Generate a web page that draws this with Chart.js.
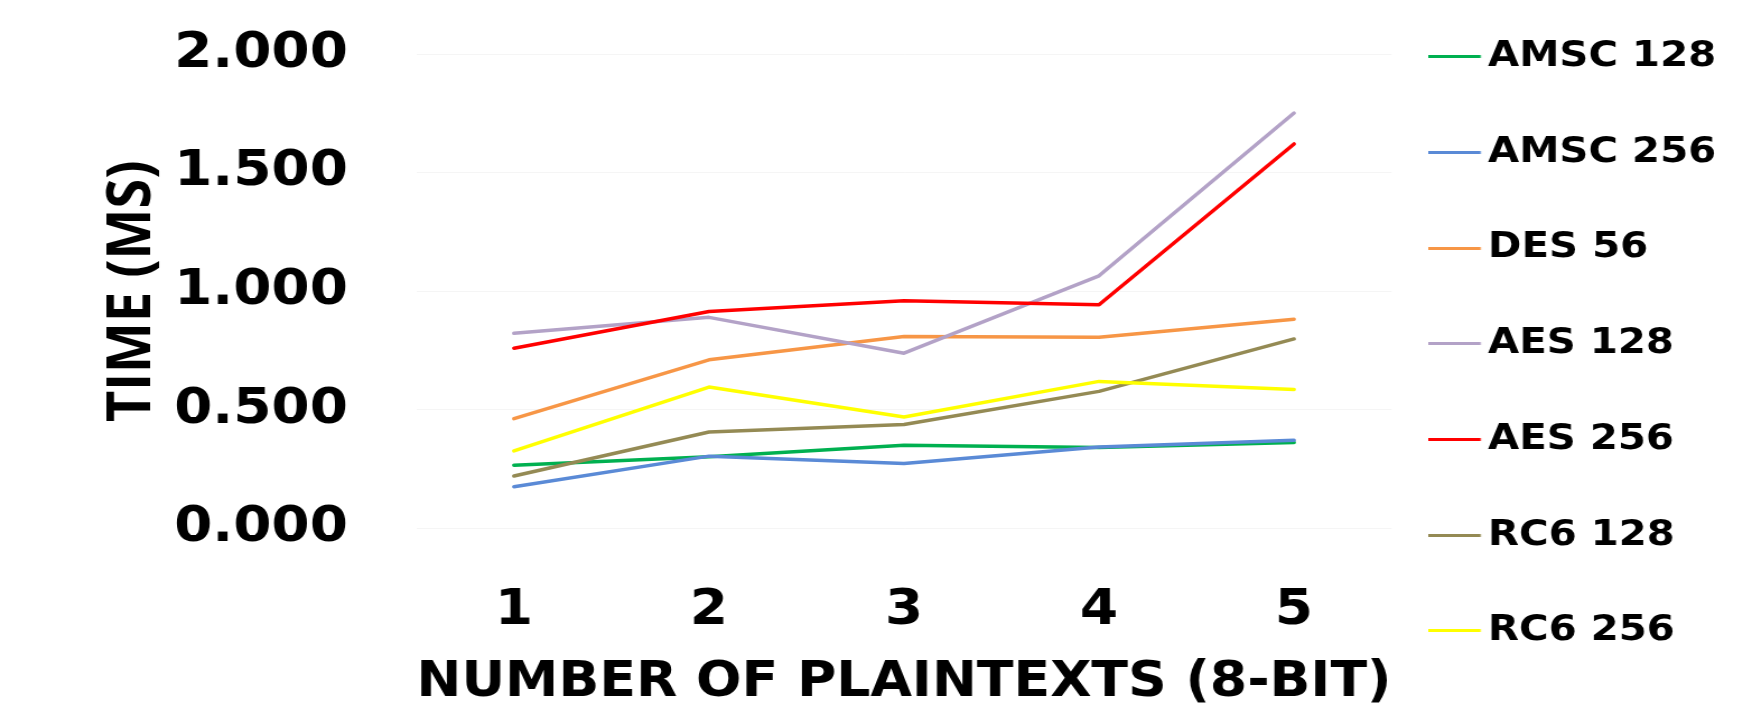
<!DOCTYPE html>
<html>
<head>
<meta charset="utf-8">
<script src="https://cdn.jsdelivr.net/npm/chart.js@4/dist/chart.umd.min.js"></script>
<style>
  html, body { margin: 0; padding: 0; background: #fff; overflow: hidden; }
  /* the drawing is rendered narrower and widened to the full page width */
  #stage { width: 1564px; height: 705px; transform: scaleX(1.1202); transform-origin: 0 0; }
  canvas { display: block; }
</style>
</head>
<body>
<div id="stage"><canvas id="chart" width="1564" height="705"></canvas></div>
<script>
// ---- data ----
const plaintextCounts = ['1', '2', '3', '4', '5'];
const timeTicks = [0, 0.5, 1, 1.5, 2];
const seriesNames = ['AMSC 128', 'AMSC 256', 'DES 56', 'AES 128', 'AES 256', 'RC6 128', 'RC6 256'];

const amsc128 = [0.267, 0.302, 0.351, 0.341, 0.362];
const amsc256 = [0.176, 0.305, 0.274, 0.344, 0.372];
const des56   = [0.463, 0.711, 0.809, 0.806, 0.882];
const aes128  = [0.823, 0.890, 0.739, 1.065, 1.751];
const aes256  = [0.760, 0.915, 0.960, 0.943, 1.621];
const rc6128  = [0.221, 0.407, 0.438, 0.578, 0.799];
const rc6256  = [0.327, 0.596, 0.470, 0.620, 0.586];

const seriesValues = [amsc128, amsc256, des56, aes128, aes256, rc6128, rc6256];

// ---- styling ----
const seriesColors = ['#00b050', '#5a8ad6', '#f79646', '#b3a2c7', '#ff0000', '#948a54', '#ffff00'];

const CANVAS_W = 1564;
const PLOT_LEFT = 371.8, PLOT_RIGHT = 1242.2, PLOT_TOP = 54, PLOT_BOTTOM = 528.5;
const PAD_TOP = -21, BOTTOM_EDGE = 710;
const Y_LABEL_RIGHT = 310.5, Y_TICK_GAP = 60;

const TICK_FONT = { family: "'DejaVu Sans'", weight: 'bold', size: 49, lineHeight: 1.2 };
const LEGEND_FONT_SIZE = 36;
const LEGEND_STEP = 95.7;
const LEGEND_PAD = LEGEND_STEP - LEGEND_FONT_SIZE;
const SWATCH_BOX = 8.4, SWATCH_W = 63, SWATCH_LINE = 47.3, SWATCH_H = 3;

// legend width depends on the widest label, so measure it to keep the plot edge fixed
const measureCtx = document.createElement('canvas').getContext('2d');
measureCtx.font = `bold ${LEGEND_FONT_SIZE}px 'DejaVu Sans'`;
const widestLabel = Math.max(...seriesNames.map(n => measureCtx.measureText(n).width));
const legendWidth = LEGEND_PAD + SWATCH_BOX + LEGEND_FONT_SIZE / 2 + widestLabel + 10;
const padRight = CANVAS_W - PLOT_RIGHT - legendWidth;

// short line markers for the legend
function makeSwatch(color) {
  const c = document.createElement('canvas');
  c.width = SWATCH_W; c.height = SWATCH_H;
  const g = c.getContext('2d');
  g.fillStyle = color;
  g.fillRect(0, 0, SWATCH_LINE, SWATCH_H);
  return c;
}
const swatches = seriesColors.map(makeSwatch);

const datasets = seriesNames.map((name, i) => ({
  label: name,
  data: seriesValues[i],
  borderColor: seriesColors[i],
  backgroundColor: seriesColors[i],
  borderWidth: 3.5,
  pointRadius: 0,
  pointHoverRadius: 0,
  tension: 0,
  fill: false,
  borderJoinStyle: 'round',
  borderCapStyle: 'round',
  order: seriesNames.length - i
}));

new Chart(document.getElementById('chart'), {
  type: 'line',
  data: { labels: plaintextCounts, datasets },
  options: {
    responsive: false,
    animation: false,
    devicePixelRatio: 1,
    layout: { padding: { top: PAD_TOP, bottom: -5, left: 0, right: padRight } },
    plugins: {
      tooltip: { enabled: false },
      title: {
        display: true,
        text: '',
        fullSize: false,
        padding: { top: PLOT_TOP - PAD_TOP, bottom: 0 },
        font: { size: 10, lineHeight: 0 }
      },
      legend: {
        position: 'right',
        align: 'start',
        labels: {
          usePointStyle: true,
          pointStyleWidth: SWATCH_BOX,
          padding: LEGEND_PAD,
          color: '#000',
          font: { family: "'DejaVu Sans'", weight: 'bold', size: LEGEND_FONT_SIZE },
          generateLabels: (chart) => chart.data.datasets.map((ds, i) => ({
            text: ds.label,
            fillStyle: ds.borderColor,
            strokeStyle: ds.borderColor,
            lineWidth: 0,
            hidden: false,
            datasetIndex: i,
            pointStyle: swatches[i]
          }))
        }
      }
    },
    scales: {
      x: {
        type: 'category',
        offset: true,
        grid: { display: false, drawTicks: false },
        border: { display: false },
        ticks: { color: '#000', font: TICK_FONT, padding: 53, maxRotation: 0 },
        title: {
          display: true,
          text: 'NUMBER OF PLAINTEXTS (8-BIT)',
          color: '#000',
          font: { family: "'DejaVu Sans'", weight: 'bold', size: 49, lineHeight: 1 },
          padding: { top: 0, bottom: 2 }
        },
        afterFit: (scale) => { scale.height = BOTTOM_EDGE - PLOT_BOTTOM; }
      },
      y: {
        min: 0,
        max: 2,
        grid: {
          color: '#f5f5f5',
          lineWidth: 1,
          drawTicks: true,
          tickLength: Y_TICK_GAP,
          tickColor: 'rgba(0,0,0,0)'
        },
        border: { display: false },
        afterBuildTicks: (scale) => { scale.ticks = timeTicks.map(v => ({ value: v })); },
        ticks: {
          color: '#000',
          font: TICK_FONT,
          padding: PLOT_LEFT - Y_LABEL_RIGHT - Y_TICK_GAP,
          callback: (v) => Number(v).toFixed(3)
        },
        title: {
          display: true,
          text: 'TIME (MS)',
          color: '#000',
          font: { family: "'Open Sans'", weight: 'bold', size: 54, lineHeight: 1.2 },
          padding: { top: 86, bottom: 0 }
        },
        afterFit: (scale) => { scale.width = PLOT_LEFT; }
      }
    }
  }
});
</script>
</body>
</html>
